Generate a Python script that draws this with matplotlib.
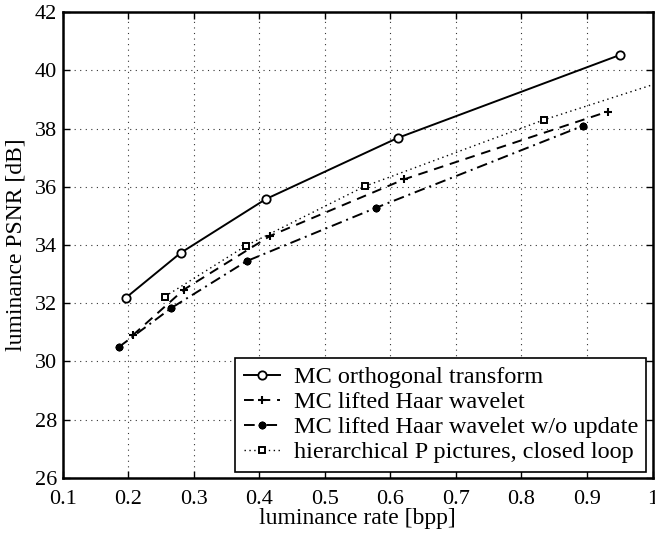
import matplotlib
matplotlib.use("Agg")
import matplotlib.pyplot as plt

plt.rcParams['font.family'] = ['Liberation Serif', 'DejaVu Serif']
plt.rcParams['mathtext.fontset'] = 'stix'

# Data
orth_x = [0.196, 0.280, 0.410, 0.611, 0.951]
orth_y = [32.18, 33.73, 35.58, 37.68, 40.54]

haar_x = [0.207, 0.285, 0.417, 0.621, 0.932]
haar_y = [30.90, 32.47, 34.32, 36.26, 38.59]

noupd_x = [0.186, 0.266, 0.381, 0.578, 0.894]
noupd_y = [30.50, 31.84, 33.45, 35.28, 38.10]

hier_x = [0.256, 0.380, 0.561, 0.835, 1.15]
hier_y = [32.23, 33.98, 36.02, 38.31, 40.60]

labels = ["MC orthogonal transform",
          "MC lifted Haar wavelet",
          "MC lifted Haar wavelet w/o update",
          "hierarchical P pictures, closed loop"]

xticks = [0.1, 0.2, 0.3, 0.4, 0.5, 0.6, 0.7, 0.8, 0.9, 1.0]
xticklabels = ["0.1", "0.2", "0.3", "0.4", "0.5", "0.6", "0.7", "0.8", "0.9", "1"]
yticks = [26, 28, 30, 32, 34, 36, 38, 40, 42]

fig = plt.figure(figsize=(6.55, 5.33), dpi=100)
ax = fig.add_axes([0.0957, 0.1036, 0.9005, 0.8733])

lw = 1.4
ax.plot(orth_x, orth_y, '-', color='black', lw=lw, marker='o', ms=6,
        mfc='white', mec='black', mew=1.3, label=labels[0])
ax.plot(haar_x, haar_y, color='black', lw=lw, ls=(0, (5, 3.5)), marker='+', ms=6,
        mew=1.5, label=labels[1])
ax.plot(noupd_x, noupd_y, color='black', lw=lw, ls=(0, (5.5, 2.5, 1, 2.5)),
        marker=(8, 2, 0), ms=5.5, mfc='black', mec='black', mew=1.6, label=labels[2])
ax.plot(hier_x, hier_y, color='black', lw=1.0, ls=(0, (1, 2.5)), marker='s', ms=4.5,
        mfc='white', mec='black', mew=1.4, label=labels[3])

ax.set_xlim(0.1, 1.0)
ax.set_ylim(26, 42)
ax.set_xticks(xticks)
ax.set_xticklabels(xticklabels)
ax.set_yticks(yticks)
ax.grid(True, ls=(0, (1, 4)), color='black', lw=0.8, alpha=0.8)
ax.tick_params(direction='in', length=5, width=1, top=True, right=True,
               labelsize=16)
ax.tick_params(axis='x', pad=9)
ax.tick_params(axis='y', pad=4)
for s in ax.spines.values():
    s.set_linewidth(1.8)

ax.set_xlabel("luminance rate [bpp]", fontsize=17, labelpad=-1)
ax.set_ylabel("luminance PSNR [dB]", fontsize=17, labelpad=6)

leg = ax.legend(loc='lower right', bbox_to_anchor=(0.9898, 0.0131), borderaxespad=0,
                fontsize=17.5, numpoints=1, handlelength=1.5, handletextpad=0.55,
                labelspacing=0.12, borderpad=0.35, fancybox=False, framealpha=1)
leg.get_frame().set_edgecolor('black')
leg.get_frame().set_linewidth(1.2)

fig.savefig("out.png", dpi=100)
